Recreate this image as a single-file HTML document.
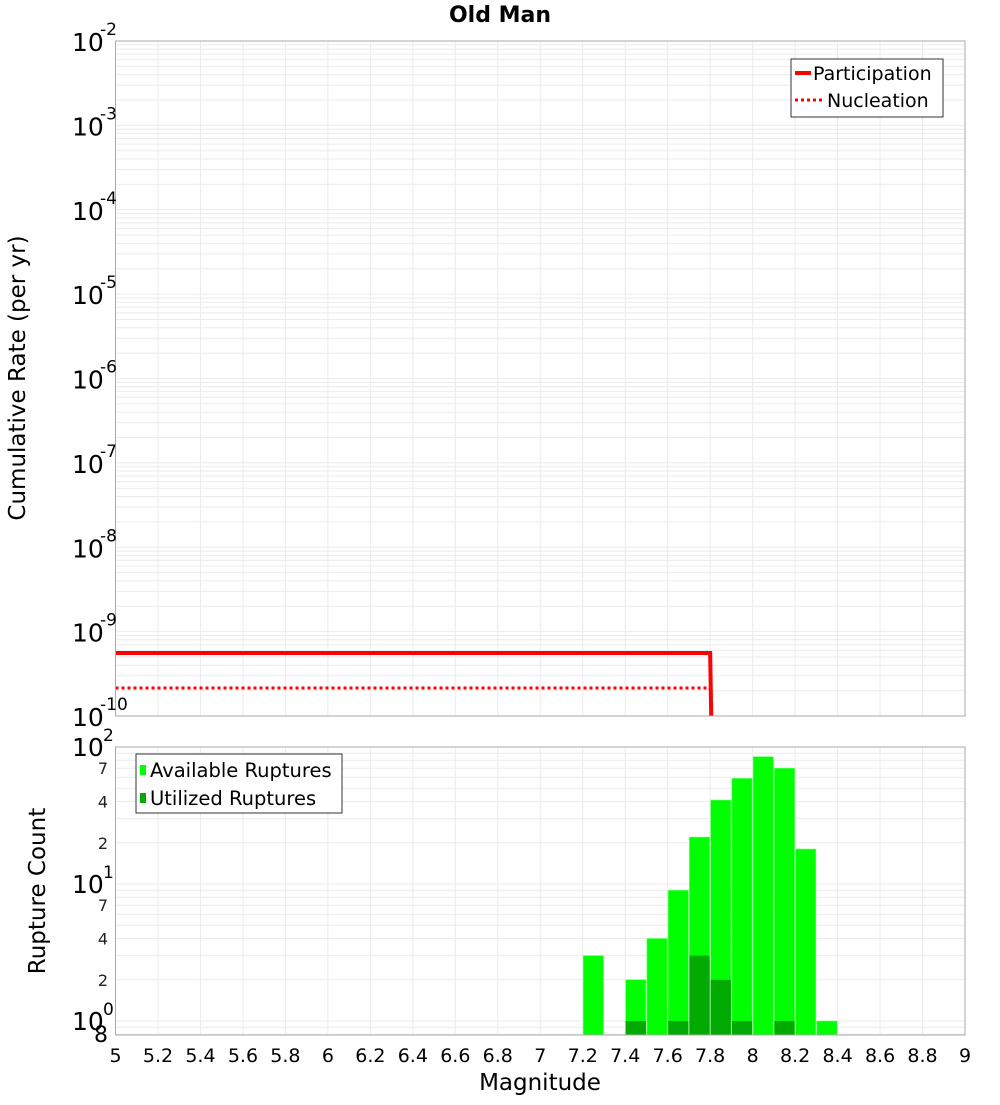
<!DOCTYPE html>
<html><head><meta charset="utf-8"><style>
body{margin:0;background:#fff;width:1000px;height:1100px;overflow:hidden}
svg{font-family:"DejaVu Sans","Liberation Sans",sans-serif}
</style></head><body>
<svg id="chart" width="1000" height="1100" xmlns="http://www.w3.org/2000/svg"></svg>
<script>
const mags=[5.0,7.8,7.805];
const partRates=[5.58e-10,5.58e-10,1e-11];
const nuclRates=[2.15e-10,2.15e-10,1e-11];
const binCenters=[7.25,7.45,7.55,7.65,7.75,7.85,7.95,8.05,8.15,8.25,8.35];
const availCounts=[3,2,4,9,22,41,59,85,70,18,1];
const utilCenters=[7.45,7.65,7.75,7.85,7.95,8.15];
const utilCounts=[1,1,3,2,1,1];
const xTicks=[5,5.2,5.4,5.6,5.8,6,6.2,6.4,6.6,6.8,7,7.2,7.4,7.6,7.8,8,8.2,8.4,8.6,8.8,9];

const NS="http://www.w3.org/2000/svg";
const svg=document.getElementById('chart');
function el(tag,attrs,parent){const e=document.createElementNS(NS,tag);for(const k in attrs)e.setAttribute(k,attrs[k]);(parent||svg).appendChild(e);return e;}
const X0=115.5,X1=965;
function xs(m){return X0+(m-5)/4*(X1-X0);}
const T0=41,T1=716;
function ys1(v){return T0+(-2-Math.log10(v))/8*(T1-T0);}
const B0=747,B1=1035,BD=137;
function ys2(v){return B0+(2-Math.log10(v))*BD;}

const g=el('g',{});

for(const t of xTicks){const x=xs(t);
 el('line',{x1:x,x2:x,y1:T0,y2:T1,stroke:'#ebebeb'},g);
 el('line',{x1:x,x2:x,y1:B0,y2:B1,stroke:'#ebebeb'},g);}
for(let d=-10;d<-2;d++)for(let k=1;k<10;k++){const y=ys1(k*Math.pow(10,d));el('line',{x1:X0,x2:X1,y1:y,y2:y,stroke:'#ebebeb'},g);}
for(let d=-1;d<2;d++)for(let k=1;k<10;k++){const v=k*Math.pow(10,d);const y=ys2(v);if(y<B0||y>B1)continue;el('line',{x1:X0,x2:X1,y1:y,y2:y,stroke:'#ebebeb'},g);}

const title=el('text',{x:500,y:22,'text-anchor':'middle','font-size':22,'font-weight':'bold'});title.textContent='Old Man';


function pts(r){return mags.map((m,i)=>xs(m)+','+Math.min(ys1(r[i]),T1)).join(' ');}
const cp=el('svg',{x:0,y:0,width:1000,height:T1});
const pl=el('polyline',{points:pts(partRates),fill:'none',stroke:'#ff0000','stroke-width':4},cp);

const nl=el('polyline',{points:pts(nuclRates),fill:'none',stroke:'#ff0000','stroke-width':3,'stroke-dasharray':'3,3'},cp);


const bw=(xs(5.1)-xs(5))-1;
binCenters.forEach((c,i)=>{const y=ys2(availCounts[i]);
 const r=el('rect',{x:xs(c-0.05)+0.5,y:y,width:bw,height:B1-y,fill:'#00ff00',stroke:'#66ff66','stroke-width':0.6});
 });
utilCenters.forEach((c,i)=>{const y=ys2(utilCounts[i]);
 const r=el('rect',{x:xs(c-0.05)+0.5,y:y,width:bw,height:B1-y,fill:'#00aa00'});
 });

const f1=el('rect',{x:X0,y:T0,width:X1-X0,height:T1-T0,fill:'none',stroke:'#aaaaaa'});

const f2=el('rect',{x:X0,y:B0,width:X1-X0,height:B1-B0,fill:'none',stroke:'#aaaaaa'});


for(let d=-2;d>=-10;d--){const y=ys1(Math.pow(10,d));
 const t=el('text',{x:72,y:y+10,'font-size':25});t.textContent='10';
 
 const s=el('text',{x:100,y:y-6,'font-size':17});s.textContent=String(d);
 }
[[100,'10','2'],[10,'10','1'],[1,'10','0']].forEach(([v,b,e])=>{const y=ys2(v);
 const t=el('text',{x:72,y:y+9,'font-size':25});t.textContent=b;
 
 const s=el('text',{x:103,y:y-6,'font-size':17});s.textContent=e;
 });
[[70,'7'],[40,'4'],[20,'2'],[7,'7'],[4,'4'],[2,'2']].forEach(([v,l])=>{
 const t=el('text',{x:108,y:ys2(v)+6,'font-size':16,'text-anchor':'end','fill':'#222'});t.textContent=l;
 });
const e8=el('text',{x:108,y:1042,'font-size':22,'text-anchor':'end'});e8.textContent='8';


xTicks.forEach(t=>{const tx=el('text',{x:xs(t),y:1062,'font-size':19,'text-anchor':'middle'});tx.textContent=String(t);
 });

const xt=el('text',{x:540,y:1090,'font-size':23,'text-anchor':'middle'});xt.textContent='Magnitude';

const yt=el('text',{x:0,y:0,'font-size':23,'text-anchor':'middle',transform:'translate(25,378) rotate(-90)'});yt.textContent='Cumulative Rate (per yr)';

const yt2=el('text',{x:0,y:0,'font-size':23,'text-anchor':'middle',transform:'translate(45,891) rotate(-90)'});yt2.textContent='Rupture Count';


const lg=el('g',{});
el('rect',{x:791,y:59,width:152,height:58,fill:'#fff',stroke:'#333'},lg);
el('line',{x1:795,x2:811,y1:73,y2:73,stroke:'#f00','stroke-width':4},lg);
el('line',{x1:795,x2:822,y1:100,y2:100,stroke:'#f00','stroke-width':3,'stroke-dasharray':'3,3'},lg);
let t1=el('text',{x:813,y:80,'font-size':19},lg);t1.textContent='Participation';
let t2=el('text',{x:827,y:107,'font-size':19},lg);t2.textContent='Nucleation';
const lg2=el('g',{});
el('rect',{x:136,y:754,width:206,height:59,fill:'#fff',stroke:'#333'},lg2);
el('rect',{x:140,y:765,width:6,height:10,fill:'#00ff00'},lg2);
el('rect',{x:140,y:793,width:6,height:10,fill:'#00aa00'},lg2);
let t3=el('text',{x:150,y:777,'font-size':19.5},lg2);t3.textContent='Available Ruptures';
let t4=el('text',{x:150,y:805,'font-size':19.5},lg2);t4.textContent='Utilized Ruptures';
</script>
</body></html>
